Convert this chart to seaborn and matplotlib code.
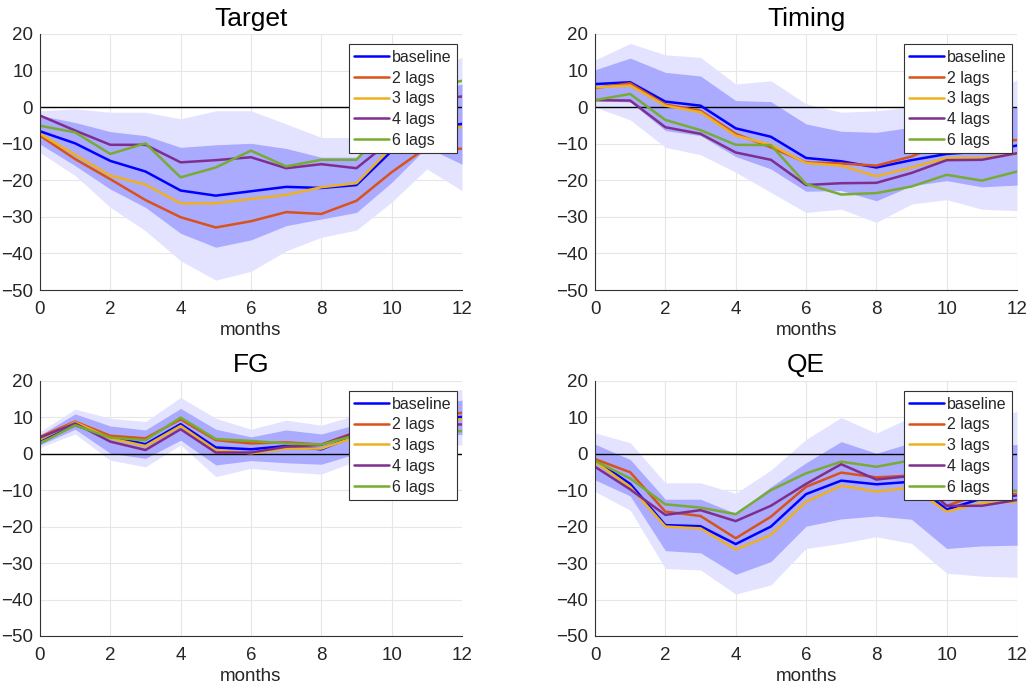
import matplotlib
matplotlib.use("Agg")
import matplotlib.pyplot as plt
import numpy as np
import pandas as pd
import seaborn as sns


# ------------------------------------------------------------
# Impulse responses by shock type, baseline bands plus lag variants
# ------------------------------------------------------------

MONTHS = list(range(13))
SERIES = ["baseline", "2 lags", "3 lags", "4 lags", "6 lags"]
PANELS = ["Target", "Timing", "FG", "QE"]

LINE_COLORS = ["#0000ff", "#d95319", "#edb120", "#7e2f8e", "#77ac30"]
OUTER_BAND_COLOR = "#e3e3ff"
INNER_BAND_COLOR = "#aaaaff"

# Target shock
target_baseline = [-6.6, -9.9, -14.7, -17.6, -22.8, -24.2, -23.0, -21.8, -22.1, -21.3, -12.0, -6.0, -4.6]
target_2lags = [-7.8, -14.2, -19.7, -25.4, -30.1, -32.9, -31.2, -28.7, -29.2, -25.6, -17.8, -11.0, -11.4]
target_3lags = [-7.3, -13.0, -18.7, -21.2, -26.3, -26.3, -25.1, -24.0, -21.9, -20.8, -11.0, -5.0, -5.5]
target_4lags = [-2.3, -6.4, -10.3, -10.3, -15.1, -14.5, -13.7, -16.7, -15.6, -16.7, -9.0, 2.0, 2.9]
target_6lags = [-5.1, -6.9, -12.8, -9.9, -19.2, -16.5, -11.9, -16.2, -14.4, -14.4, -4.0, 5.0, 7.2]
target_outer_hi = [-1.0, -0.5, -1.4, -1.4, -3.2, -1.0, -1.0, -4.6, -8.3, -8.3, 1.0, 10.0, 13.6]
target_outer_lo = [-12.4, -18.7, -27.4, -33.8, -42.0, -47.3, -44.9, -39.3, -35.6, -33.6, -26.0, -16.9, -22.8]
target_inner_hi = [-2.3, -4.2, -6.7, -7.8, -11.0, -10.3, -9.9, -11.3, -13.7, -13.7, -3.0, 4.0, 6.3]
target_inner_lo = [-10.1, -16.0, -22.4, -27.4, -34.5, -38.3, -36.3, -32.4, -30.6, -28.8, -20.6, -11.0, -15.6]

# Timing shock
timing_baseline = [6.3, 6.8, 1.5, 0.4, -5.8, -8.1, -13.9, -14.8, -16.5, -14.5, -12.8, -12.1, -10.5]
timing_2lags = [5.2, 6.5, 0.7, -1.0, -7.3, -11.0, -15.1, -15.4, -16.0, -13.5, -9.5, -9.5, -9.0]
timing_3lags = [5.4, 5.9, 0.4, -1.4, -7.8, -10.3, -15.3, -16.0, -18.9, -16.5, -13.9, -13.9, -12.8]
timing_4lags = [1.9, 1.8, -5.5, -7.3, -12.4, -14.4, -21.3, -20.8, -20.7, -18.0, -14.5, -14.4, -12.6]
timing_6lags = [1.9, 3.6, -3.5, -6.3, -10.3, -10.4, -21.0, -23.9, -23.5, -21.7, -18.5, -20.1, -17.6]
timing_outer_hi = [12.9, 17.4, 14.3, 13.6, 6.3, 7.2, 0.9, -1.4, -1.0, 0.0, 2.0, 3.5, 7.4]
timing_outer_lo = [0.0, -3.5, -11.0, -13.0, -17.8, -23.3, -28.8, -27.9, -31.5, -26.5, -25.3, -27.9, -28.3]
timing_inner_hi = [10.2, 13.4, 9.5, 8.5, 1.8, 1.5, -4.6, -6.6, -6.9, -5.5, -3.5, -2.0, 0.0]
timing_inner_lo = [1.8, 1.4, -6.4, -7.8, -13.5, -16.9, -23.0, -22.8, -25.6, -21.5, -20.1, -21.8, -21.3]

# FG shock
fg_baseline = [3.7, 7.8, 4.6, 2.6, 8.1, 1.7, 1.2, 2.1, 1.2, 5.0, 8.0, 9.0, 10.1]
fg_2lags = [4.6, 8.8, 4.9, 4.2, 9.4, 3.7, 2.8, 3.1, 2.5, 6.0, 9.0, 10.0, 11.2]
fg_3lags = [3.9, 8.6, 4.2, 2.1, 7.6, 1.0, 0.1, 1.4, 1.4, 4.6, 8.0, 9.0, 9.4]
fg_4lags = [4.4, 8.3, 3.3, 1.0, 6.7, 0.3, 0.3, 1.9, 2.4, 5.8, 7.0, 8.0, 8.0]
fg_6lags = [2.8, 7.8, 4.4, 3.7, 9.9, 4.0, 3.5, 2.8, 2.5, 5.1, 6.0, 6.0, 6.2]
fg_outer_hi = [6.0, 12.2, 9.7, 8.8, 15.4, 9.7, 6.7, 9.2, 7.8, 10.6, 14.0, 16.0, 17.6]
fg_outer_lo = [1.7, 5.4, -1.8, -3.6, 2.4, -6.3, -4.0, -5.0, -5.6, -2.0, 1.0, 2.0, 2.4]
fg_inner_hi = [5.1, 10.9, 7.6, 6.5, 12.4, 6.7, 4.6, 6.5, 5.4, 8.0, 11.0, 13.0, 14.7]
fg_inner_lo = [2.4, 6.7, 0.1, -1.3, 3.7, -3.1, -1.9, -2.5, -2.9, 0.0, 3.0, 4.5, 5.3]

# QE shock
qe_baseline = [-1.8, -8.3, -19.6, -19.9, -24.8, -20.0, -11.1, -7.4, -8.4, -7.7, -15.3, -12.3, -11.4]
qe_2lags = [-1.5, -5.1, -15.9, -17.1, -23.2, -17.3, -9.1, -5.2, -6.5, -6.0, -14.3, -11.0, -11.1]
qe_3lags = [-2.2, -9.1, -20.0, -20.5, -26.3, -22.3, -13.2, -8.8, -10.4, -9.3, -15.9, -13.6, -13.2]
qe_4lags = [-3.6, -9.8, -16.8, -15.5, -18.5, -14.3, -8.3, -2.9, -7.1, -6.1, -14.3, -14.3, -12.7]
qe_6lags = [-2.0, -6.8, -13.9, -14.8, -16.6, -10.0, -5.4, -2.2, -3.6, -1.8, -10.0, -10.0, -10.2]
qe_outer_hi = [5.7, 3.0, -8.0, -8.0, -10.9, -4.5, 3.9, 9.9, 5.6, 10.1, 9.0, 10.0, 11.5]
qe_outer_lo = [-10.4, -15.5, -31.5, -31.9, -38.5, -36.0, -26.0, -24.6, -22.8, -24.6, -32.8, -33.6, -33.9]
qe_inner_hi = [2.6, -1.6, -12.5, -12.5, -16.4, -9.1, -2.5, 3.3, 0.1, 3.0, 1.0, 2.0, 2.5]
qe_inner_lo = [-7.2, -11.6, -26.6, -27.2, -33.1, -29.6, -19.9, -17.9, -17.1, -18.0, -26.0, -25.3, -25.1]

PANEL_DATA = {
    "Target": ([target_baseline, target_2lags, target_3lags, target_4lags, target_6lags],
               target_outer_lo, target_outer_hi, target_inner_lo, target_inner_hi),
    "Timing": ([timing_baseline, timing_2lags, timing_3lags, timing_4lags, timing_6lags],
               timing_outer_lo, timing_outer_hi, timing_inner_lo, timing_inner_hi),
    "FG": ([fg_baseline, fg_2lags, fg_3lags, fg_4lags, fg_6lags],
           fg_outer_lo, fg_outer_hi, fg_inner_lo, fg_inner_hi),
    "QE": ([qe_baseline, qe_2lags, qe_3lags, qe_4lags, qe_6lags],
           qe_outer_lo, qe_outer_hi, qe_inner_lo, qe_inner_hi),
}

# axes boxes in figure fractions [left, bottom, width, height]
AXES_BOXES = {
    "Target": [0.0388, 0.5815, 0.4097, 0.3695],
    "Timing": [0.5777, 0.5815, 0.4097, 0.3695],
    "FG": [0.0388, 0.0823, 0.4097, 0.3683],
    "QE": [0.5777, 0.0823, 0.4097, 0.3683],
}


sns.set_theme(style="whitegrid")
plt.rcParams["font.family"] = ["Liberation Sans", "DejaVu Sans"]


def draw_panel(ax, name):
    lines, outer_lo, outer_hi, inner_lo, inner_hi = PANEL_DATA[name]

    ax.fill_between(MONTHS, outer_lo, outer_hi, color=OUTER_BAND_COLOR, linewidth=0, zorder=1)
    ax.fill_between(MONTHS, inner_lo, inner_hi, color=INNER_BAND_COLOR, linewidth=0, zorder=1.5)
    ax.axhline(0, color="black", linewidth=1.0, zorder=2)

    df = pd.DataFrame(
        [(m, s, v) for s, values in zip(SERIES, lines) for m, v in zip(MONTHS, values)],
        columns=["month", "series", "value"],
    )
    sns.lineplot(
        data=df, x="month", y="value", hue="series", hue_order=SERIES,
        palette=LINE_COLORS, linewidth=1.8, ax=ax, zorder=3,
    )

    ax.set_xlim(0, 12)
    ax.set_ylim(-50, 20)
    ax.set_xticks(range(0, 13, 2))
    ax.set_yticks(range(-50, 21, 10))
    ax.set_title(name, fontsize=19, pad=6, color="black")
    ax.set_xlabel("months", fontsize=13.5, labelpad=3, color="#262626")
    ax.set_ylabel("")
    ax.tick_params(axis="both", labelsize=13.5, length=0, labelcolor="#262626")
    ax.tick_params(axis="x", pad=8)
    ax.tick_params(axis="y", pad=5)
    ax.grid(True, color="#e6e6e6", linewidth=0.8)
    ax.set_axisbelow(True)

    for side in ["top", "right"]:
        ax.spines[side].set_visible(False)
    for side in ["left", "bottom"]:
        ax.spines[side].set_color("#333333")
        ax.spines[side].set_linewidth(0.8)
        ax.spines[side].set_zorder(4)

    legend = ax.legend(
        loc="upper right", bbox_to_anchor=(0.988, 0.96), fontsize=11.5,
        frameon=True, fancybox=False, framealpha=1, handlelength=2.2,
        handletextpad=0.15, borderpad=0.35, labelspacing=0.36, borderaxespad=0,
    )
    legend.get_frame().set_edgecolor("#333333")
    legend.get_frame().set_linewidth(0.8)
    legend.set_zorder(5)


def main():
    fig = plt.figure(figsize=(10.30, 6.93), dpi=100)
    for name in PANELS:
        ax = fig.add_axes(AXES_BOXES[name])
        draw_panel(ax, name)
    fig.savefig("out.png", dpi=100)


if __name__ == "__main__":
    main()
